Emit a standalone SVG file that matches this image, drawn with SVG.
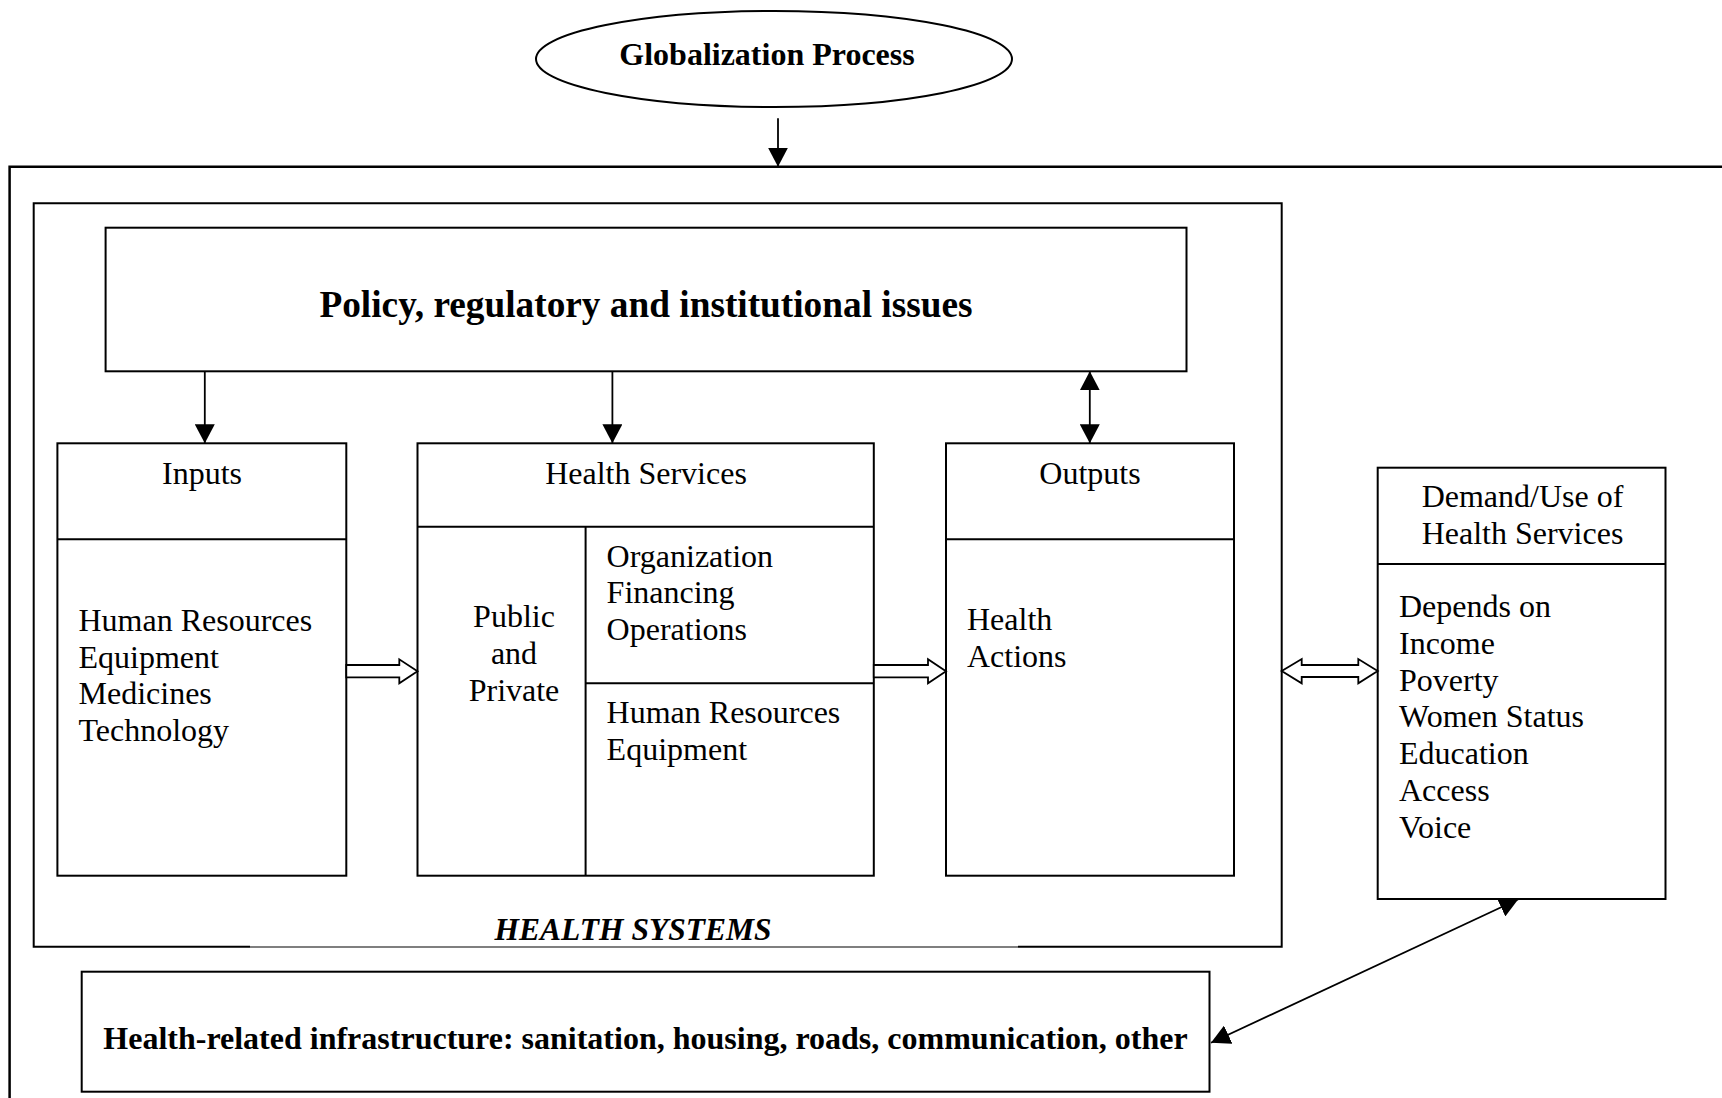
<svg xmlns="http://www.w3.org/2000/svg" width="1722" height="1098" viewBox="0 0 1722 1098">
<style>
.box{fill:none;stroke:#000;stroke-width:2}
.ln{fill:none;stroke:#000;stroke-width:1.8}
.blk{fill:#fff;stroke:#000;stroke-width:1.8;stroke-linejoin:miter}
.t{font-family:"Liberation Serif","Times New Roman",serif;font-size:32px;fill:#000}
.c{text-anchor:middle}
.b{font-weight:bold}
</style>
<defs>
<marker id="ah" markerUnits="userSpaceOnUse" markerWidth="20" markerHeight="20" refX="19" refY="10" orient="auto-start-reverse" viewBox="0 0 20 20">
<path d="M0,0 L19,10 L0,20 Z" fill="#000"/>
</marker>
</defs>
<rect width="1722" height="1098" fill="#fff"/>

<g id="globalization">
<ellipse cx="774" cy="59" rx="238" ry="48" class="box"/>
<text x="767" y="65" class="t c b" style="font-size:32px">Globalization Process</text>
</g>

<g id="outer-frame">
<path d="M9.6,1100 L9.6,166.7 L1724,166.7" fill="none" stroke="#000" stroke-width="2.5"/>
</g>

<g id="health-systems">
<path d="M250,946.7 L33.7,946.7 L33.7,203.3 L1281.7,203.3 L1281.7,946.7 L1018,946.7" class="box"/>
<path d="M250,947 L1018,947" fill="none" stroke="#000" stroke-width="1.2"/>
<text x="633" y="940" class="t c b" style="font-style:italic;font-size:31.5px">HEALTH SYSTEMS</text>
</g>

<g id="policy">
<rect x="105.6" y="227.7" width="1080.9" height="143.6" class="box"/>
<text x="646" y="317" class="t c b" style="font-size:37.3px">Policy, regulatory and institutional issues</text>
</g>

<g id="inputs">
<rect x="57.4" y="443.3" width="288.9" height="432.4" class="box"/>
<line x1="57.4" y1="539.3" x2="346.3" y2="539.3" class="box"/>
<text x="202" y="484" class="t c">Inputs</text>
<text x="78.5" y="630.7" class="t">Human Resources</text>
<text x="78.5" y="667.5" class="t">Equipment</text>
<text x="78.5" y="704.3" class="t">Medicines</text>
<text x="78.5" y="741.3" class="t">Technology</text>
</g>

<g id="health-services">
<rect x="417.5" y="443.3" width="456.3" height="432.4" class="box"/>
<line x1="417.5" y1="526.7" x2="873.8" y2="526.7" class="box"/>
<line x1="585.6" y1="526.7" x2="585.6" y2="875.7" class="box"/>
<line x1="585.6" y1="683.3" x2="873.8" y2="683.3" class="box"/>
<text x="646" y="484" class="t c">Health Services</text>
<text x="514" y="626.7" class="t c">Public</text>
<text x="514" y="663.9" class="t c">and</text>
<text x="514" y="701" class="t c">Private</text>
<text x="606.6" y="566.7" class="t">Organization</text>
<text x="606.6" y="603.3" class="t">Financing</text>
<text x="606.6" y="640" class="t">Operations</text>
<text x="606.6" y="723.3" class="t">Human Resources</text>
<text x="606.6" y="760" class="t">Equipment</text>
</g>

<g id="outputs">
<rect x="946" y="443.3" width="288" height="432.4" class="box"/>
<line x1="946" y1="539.3" x2="1234" y2="539.3" class="box"/>
<text x="1090" y="484" class="t c">Outputs</text>
<text x="967" y="630" class="t">Health</text>
<text x="967" y="666.7" class="t">Actions</text>
</g>

<g id="demand">
<rect x="1377.7" y="467.7" width="287.8" height="431.3" class="box"/>
<line x1="1377.7" y1="564" x2="1665.5" y2="564" class="box"/>
<text x="1522.5" y="507.3" class="t c">Demand/Use of</text>
<text x="1522.5" y="544" class="t c">Health Services</text>
<text x="1399" y="617.3" class="t">Depends on</text>
<text x="1399" y="654" class="t">Income</text>
<text x="1399" y="690.7" class="t">Poverty</text>
<text x="1399" y="727.4" class="t">Women Status</text>
<text x="1399" y="764.1" class="t">Education</text>
<text x="1399" y="800.8" class="t">Access</text>
<text x="1399" y="837.5" class="t">Voice</text>
</g>

<g id="infrastructure">
<rect x="81.7" y="971.7" width="1127.8" height="120" class="box"/>
<text x="103.3" y="1049" class="t b" style="font-size:32px">Health-related infrastructure: sanitation, housing, roads, communication, other</text>
</g>

<g id="connectors">
<line x1="778" y1="118.3" x2="778" y2="166.7" class="ln" marker-end="url(#ah)"/>
<line x1="204.8" y1="371.3" x2="204.8" y2="443.3" class="ln" marker-end="url(#ah)"/>
<line x1="612.4" y1="371.3" x2="612.4" y2="443.3" class="ln" marker-end="url(#ah)"/>
<line x1="1089.8" y1="371.3" x2="1089.8" y2="443.3" class="ln" marker-start="url(#ah)" marker-end="url(#ah)"/>
<polygon points="346.3,665 399.3,665 399.3,659.3 417.5,671.3 399.3,683.3 399.3,677.3 346.3,677.3" class="blk"/>
<polygon points="873.8,665 928,665 928,659.3 946,671.3 928,683.3 928,677.3 873.8,677.3" class="blk"/>
<polygon points="1281.7,671 1301.7,659 1301.7,665 1358.3,665 1358.3,659 1377.7,671 1358.3,683.3 1358.3,677 1301.7,677 1301.7,683.3" class="blk"/>
<line x1="1211" y1="1042.7" x2="1518.3" y2="899.3" class="ln" stroke-width="1.6" marker-start="url(#ah)" marker-end="url(#ah)"/>
</g>
</svg>
